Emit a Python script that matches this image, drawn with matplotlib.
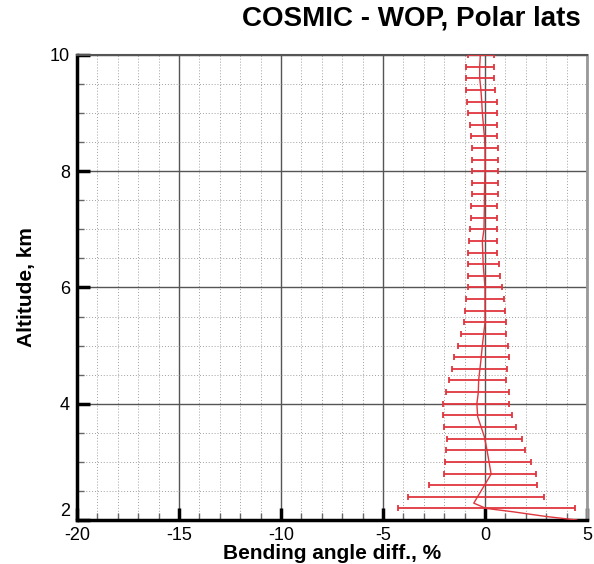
import matplotlib.pyplot as plt
from matplotlib.ticker import MultipleLocator
import numpy as np

plt.rcParams['font.family'] = ['Liberation Sans', 'DejaVu Sans']
plt.rcParams['axes.unicode_minus'] = False

# altitudes of the error bars (km)
bar_alt = [10.0, 9.8, 9.6, 9.4, 9.2, 9.0, 8.8, 8.6, 8.4, 8.2,
           8.0, 7.8, 7.6, 7.4, 7.2, 7.0, 6.8, 6.6, 6.4, 6.2,
           6.0, 5.8, 5.6, 5.4, 5.2, 5.0, 4.8, 4.6, 4.4, 4.2,
           4.0, 3.8, 3.6, 3.4, 3.2, 3.0, 2.8, 2.6, 2.4, 2.2]
# mean difference at bar altitudes (%)
bar_mean = [-0.21, -0.235, -0.235, -0.215, -0.155, -0.125, -0.07, -0.035, -0.005, 0.0,
            0.01, 0.0, 0.0, -0.035, -0.05, -0.09, -0.10, -0.11, -0.09, -0.05,
            0.0, 0.0, 0.0, -0.02, -0.07, -0.115, -0.17, -0.265, -0.355, -0.375,
            -0.425, -0.36, -0.23, -0.025, 0.04, 0.14, 0.245, -0.10, -0.44, 0.085]
# standard deviation (%)
bar_std = [0.64, 0.695, 0.695, 0.715, 0.725, 0.695, 0.67, 0.635, 0.645, 0.62,
           0.63, 0.64, 0.65, 0.635, 0.65, 0.66, 0.67, 0.71, 0.76, 0.80,
           0.85, 0.95, 0.96, 1.03, 1.12, 1.225, 1.33, 1.355, 1.405, 1.535,
           1.615, 1.68, 1.77, 1.825, 1.94, 2.10, 2.275, 2.66, 3.32, 4.345]

# mean profile line
line_alt = [10.0, 9.8, 9.6, 9.4, 9.2, 9.0, 8.8, 8.6, 8.4, 8.0, 7.6, 7.4, 7.0, 6.8,
            6.4, 6.0, 5.4, 5.0, 4.75, 4.41, 4.19, 4.0, 3.78, 3.43, 3.2, 2.79,
            2.29, 2.2, 2.14, 2.06, 2.0]
line_mean = [-0.23, -0.26, -0.26, -0.2, -0.16, -0.13, -0.08, -0.03, 0.0, 0.0, -0.03, -0.03,
             -0.05, -0.13, -0.09, 0.0, 0.0, -0.13, -0.2, -0.31, -0.33, -0.4, -0.36,
             -0.03, 0.1, 0.3, -0.55, 0.05, 1.4, 3.0, 4.5]

yticks = [2, 4, 6, 8, 10]
ytick_labels = ['2', '4', '6', '8', '10']

red = '#e0363e'

fig = plt.figure(figsize=(5.94, 5.64), dpi=100)
ax = fig.add_axes([77/594, 44/564, 510/594, 465/564])

ax.errorbar(bar_mean, bar_alt, xerr=bar_std, fmt='none', ecolor=red,
            elinewidth=1.3, capsize=2.5, capthick=1.3, zorder=3)
ax.plot(line_mean, line_alt, color=red, lw=1.0, zorder=4)

ax.set_xlim(-20, 5)
ax.set_ylim(2, 10)
ax.xaxis.set_major_locator(MultipleLocator(5))
ax.xaxis.set_minor_locator(MultipleLocator(1))
ax.set_yticks(yticks, ytick_labels)
ax.yaxis.set_minor_locator(MultipleLocator(0.5))

ax.grid(which='major', color='#555555', lw=1.0, ls='-')
ax.grid(which='minor', color='#a0a0a0', lw=0.7, ls=(0, (1, 2)))
ax.set_axisbelow(True)

ax.tick_params(which='major', direction='in', length=9, width=2.5, color='black',
               labelsize=13, pad=5)
ax.tick_params(which='minor', direction='in', length=5, width=1, color='#666666')

# the lowest altitude label sits a bit higher, like in the original
ax.get_yticklabels()[0].set_va('bottom')

for s in ['left', 'bottom']:
    ax.spines[s].set_linewidth(2.5)
    ax.spines[s].set_color('black')
ax.spines['top'].set_color('#555555')
ax.spines['top'].set_linewidth(1.5)
ax.spines['right'].set_color('#999999')
ax.spines['right'].set_linewidth(2)

ax.set_xlabel('Bending angle diff., %', fontsize=15, fontweight='bold', labelpad=0)
ax.set_ylabel('Altitude, km', fontsize=15, fontweight='bold', labelpad=10)
fig.text(0.692, 0.967, 'COSMIC - WOP, Polar lats', fontsize=20, fontweight='bold',
         ha='center', va='center')

fig.savefig('out.png', dpi=100)
